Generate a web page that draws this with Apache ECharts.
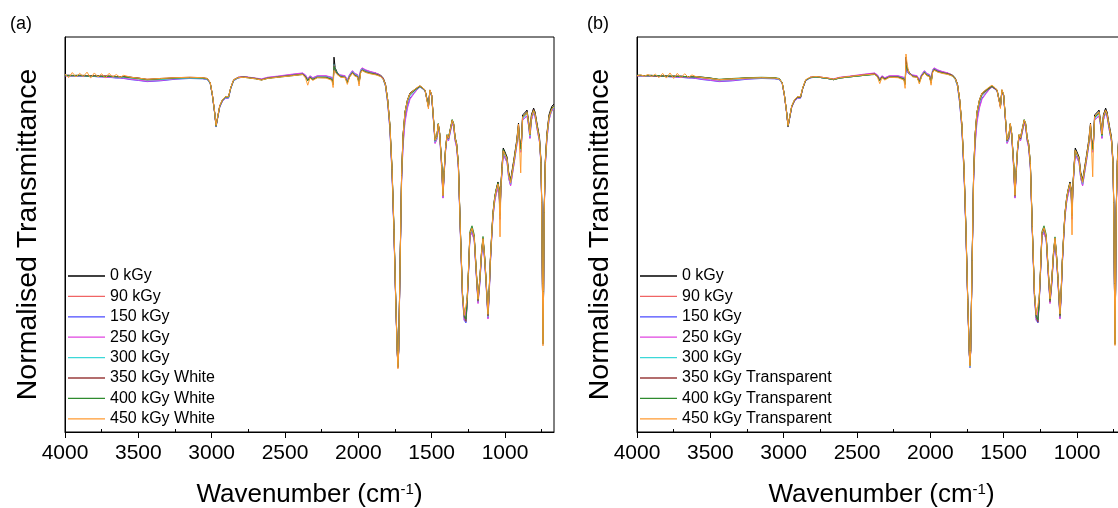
<!DOCTYPE html>
<html><head><meta charset="utf-8">
<script src="https://cdn.jsdelivr.net/npm/echarts@6/dist/echarts.min.js"></script>
<style>html,body{margin:0;padding:0;background:#fff}#c{width:1118px;height:508px}</style>
</head><body><div id="c"></div>
<script>
const wavenumbers = [
4000,3975,3950,3925,3900,3875,3850,3825,3800,3775,3750,3725,3700,3675,3650,3625,3600,
3550,3500,3440,3350,3250,3150,3060,3030,3010,2995,
2980,2970,2960,2945,2925,2905,2895,2885,2870,2850,
2820,2780,2700,2660,2620,2550,2450,2380,2360,2345,
2330,2310,2280,2220,2180,2172,2166,2158,2145,2120,
2090,2075,2060,2040,2025,2005,1995,1985,1975,1950,
1920,1880,1850,1830,1815,1800,1785,1770,1757,1745,
1735,1730,1725,1715,1705,1695,1682,1665,1648,1620,
1600,1580,1560,1545,1532,1522,1512,1500,1487,1477,
1465,1455,1445,1432,1423,1415,1405,1395,1385,1372,
1360,1350,1340,1330,1318,1305,1290,1278,1266,1258,
1250,1239,1225,1210,1198,1184,1172,1160,1150,1140,
1130,1116,1108,1100,1090,1082,1070,1061,1048,1040,
1034,1028,1020,1012,1000,986,975,962,952,940,
932,920,908,903,893,888,880,865,850,840,
830,820,805,795,780,765,755,750,745,741,
737,733,725,714,700,690,680,666];

const k0 = [
90.3,90.3,90.2,90.3,90.3,90.2,90.2,90.2,90.2,90.1,90.1,90.1,90.1,90.0,90.0,90.0,90.0,
89.8,89.6,89.2,89.4,89.6,89.7,89.6,89.4,88.4,85.3,
81.0,77.5,79.5,82.5,84.1,84.8,85.2,84.8,87.1,89.1,
89.7,89.9,89.5,89.2,89.6,89.9,90.3,90.6,90.1,89.1,
89.9,89.4,89.9,89.9,89.4,88.1,94.9,92.2,91.1,90.1,
89.9,88.6,90.1,91.1,90.4,90.1,88.4,91.1,91.9,91.4,
91.1,90.8,90.4,89.6,88.1,84.1,77.7,66.3,51.1,33.4,
20.8,16.5,20.8,43.5,65.1,75.2,81.0,84.1,85.8,86.6,
87.1,87.6,87.1,86.6,86.6,82.5,86.6,85.3,79.0,73.9,
74.8,78.0,75.5,68.0,60.0,66.0,72.0,75.2,74.5,74.0,
79.0,78.0,74.5,73.0,68.0,52.0,35.0,29.5,28.4,33.4,
40.0,50.4,51.6,49.5,42.0,33.4,38.5,45.5,49.1,45.0,
39.0,29.6,35.5,43.5,50.5,55.5,59.5,61.3,63.3,61.5,
55.0,62.5,67.5,71.9,70.9,69.6,65.8,63.8,63.3,68.9,
70.9,73.9,78.2,75.2,72.0,73.9,80.3,80.8,81.5,79.0,
75.7,80.3,82.0,81.0,77.7,74.7,68.9,58.7,38.5,22.5,
36.2,56.2,68.9,75.7,80.3,81.5,82.5,83.0];

const k90 = [
90.2,90.2,90.2,90.2,90.2,90.1,90.2,90.1,90.1,90.1,90.0,90.1,90.0,90.0,89.9,89.9,89.9,
89.6,89.4,89.0,89.2,89.5,89.6,89.5,89.3,88.3,85.2,
80.8,77.3,79.3,82.3,84.0,84.7,85.0,84.7,87.0,89.0,
89.7,89.9,89.5,89.2,89.6,89.9,90.4,90.7,90.2,89.2,
90.0,89.5,90.0,90.0,89.5,88.2,92.5,91.5,90.8,90.2,
90.0,88.8,90.2,91.2,90.5,90.2,88.6,91.3,92.0,91.5,
91.1,90.8,90.3,89.5,88.0,84.0,77.5,66.0,50.8,33.2,
20.6,16.4,20.6,43.2,64.8,74.5,80.2,83.3,85.2,86.3,
86.9,87.5,87.0,86.5,86.5,82.5,86.5,85.2,78.8,73.6,
74.5,77.8,75.2,67.6,59.6,65.7,71.7,75.0,74.2,73.7,
78.7,77.7,74.2,72.7,67.6,51.6,34.6,29.0,28.0,33.0,
39.6,50.1,51.3,49.2,41.6,33.0,38.1,45.2,48.7,44.6,
38.6,29.2,35.1,43.1,50.1,55.1,59.1,60.9,62.8,61.0,
54.6,62.0,67.0,71.1,70.2,68.9,65.0,63.0,62.6,68.2,
70.2,73.2,77.5,74.5,71.5,73.3,79.6,80.1,80.8,78.4,
75.0,79.6,81.3,80.3,77.0,74.0,68.3,58.2,38.2,22.4,
36.0,55.8,68.3,75.0,79.6,80.8,81.8,82.3];

const k150 = [
90.2,90.1,90.2,90.1,90.1,90.1,90.0,90.0,90.0,89.9,89.9,89.8,89.8,89.7,89.6,89.6,89.5,
89.2,89.0,88.7,88.9,89.3,89.5,89.4,89.2,88.2,85.1,
80.8,77.2,79.2,82.2,83.8,84.5,84.9,84.5,86.9,88.9,
89.6,89.9,89.5,89.3,89.7,90.0,90.5,90.8,90.3,89.3,
90.1,89.6,90.1,90.1,89.7,88.4,92.0,91.2,90.6,90.3,
90.1,89.0,90.4,91.4,90.7,90.4,88.8,91.5,92.1,91.6,
91.2,90.8,90.2,89.3,87.6,83.4,76.8,65.2,50.2,32.8,
20.4,16.3,20.4,42.6,63.8,73.0,79.0,82.4,84.5,85.8,
86.6,87.3,86.8,86.3,86.3,82.3,86.2,84.9,78.4,73.2,
74.1,77.4,74.8,67.0,59.3,65.2,71.3,74.6,73.8,73.3,
78.3,77.2,73.8,72.2,67.0,51.0,34.0,28.3,27.6,32.4,
39.0,49.6,50.6,48.6,41.0,32.8,37.5,44.5,48.0,44.0,
38.0,28.8,34.5,42.5,49.6,54.5,58.4,60.2,62.0,60.4,
54.0,61.3,66.2,70.4,69.4,68.3,64.3,62.4,62.2,67.6,
69.6,72.6,76.9,73.9,71.0,72.7,79.0,79.6,80.0,77.8,
74.4,79.0,81.0,79.8,76.5,73.5,67.8,57.8,37.8,22.2,
35.6,55.2,67.6,74.2,79.0,80.5,81.5,82.0];

const k250 = [
90.2,90.2,90.1,90.2,90.1,90.1,90.1,90.0,90.0,90.0,89.9,89.9,89.8,89.8,89.7,89.7,89.6,
89.3,89.1,88.8,89.0,89.4,89.6,89.5,89.3,88.3,85.2,
80.9,77.4,79.4,82.3,83.9,84.6,85.0,84.6,87.0,89.0,
89.8,90.0,89.6,89.4,89.8,90.1,90.6,90.9,90.4,89.4,
90.2,89.7,90.2,90.2,89.8,88.5,92.3,91.4,90.8,90.4,
90.2,89.1,90.5,91.5,90.8,90.5,88.9,91.6,92.2,91.7,
91.3,90.9,90.3,89.3,87.5,83.2,76.5,65.0,50.0,32.6,
20.3,16.3,20.3,42.3,63.3,72.3,78.3,82.0,84.2,85.7,
86.6,87.3,86.9,86.4,86.3,82.3,86.3,85.0,78.3,73.0,
74.0,77.3,74.6,66.7,59.2,65.0,71.2,74.6,73.7,73.2,
78.2,77.1,73.6,72.0,66.8,50.8,33.8,28.3,28.0,32.6,
39.0,49.5,50.4,48.5,40.8,32.5,37.2,44.3,47.9,43.8,
37.8,28.6,34.3,42.4,49.4,54.3,58.3,60.0,61.8,60.2,
53.8,61.2,66.0,70.2,69.3,68.2,64.2,62.3,62.0,67.4,
69.4,72.4,76.8,73.8,70.8,72.6,78.9,79.5,80.0,77.7,
74.3,78.9,80.8,79.7,76.4,73.4,67.7,57.6,37.6,22.3,
35.5,55.0,67.5,74.1,78.9,80.3,81.3,81.8];

const k300 = [
90.3,90.2,90.2,90.2,90.2,90.2,90.1,90.1,90.1,90.1,90.0,90.0,90.0,89.9,89.9,89.9,89.8,
89.6,89.4,89.1,89.2,89.5,89.6,89.5,89.3,88.3,85.2,
80.9,77.4,79.4,82.4,84.0,84.7,85.1,84.7,87.0,89.0,
89.7,89.9,89.5,89.2,89.6,89.9,90.3,90.6,90.1,89.1,
89.9,89.4,89.9,89.9,89.5,88.2,93.0,91.8,90.9,90.1,
89.9,88.7,90.2,91.2,90.5,90.2,88.5,91.2,91.9,91.3,
91.0,90.6,90.1,89.2,87.6,83.5,77.0,65.6,50.6,33.0,
20.6,16.4,20.6,43.0,64.5,74.3,80.2,83.4,85.2,86.2,
86.8,87.4,86.9,86.4,86.4,82.4,86.4,85.1,78.7,73.5,
74.4,77.7,75.1,67.5,59.7,65.6,71.6,74.9,74.1,73.6,
78.6,77.6,74.1,72.6,67.5,51.5,34.5,29.0,28.2,33.0,
39.5,50.0,51.2,49.1,41.5,33.1,38.0,45.0,48.6,44.4,
38.5,29.2,35.0,43.0,50.0,55.0,59.0,60.8,62.6,60.9,
54.5,61.9,66.8,71.0,70.0,68.8,64.9,62.9,62.5,68.0,
70.0,73.0,77.4,74.4,71.3,73.1,79.4,80.0,80.6,78.2,
74.9,79.5,81.2,80.2,76.9,73.9,68.2,58.0,38.0,22.4,
35.8,55.6,68.1,74.8,79.4,80.6,81.6,82.2];

const k350White = [
90.3,90.3,90.3,90.2,90.3,90.3,90.2,90.2,90.2,90.2,90.1,90.1,90.1,90.1,90.0,90.0,90.0,
89.8,89.6,89.3,89.5,89.7,89.8,89.7,89.5,88.5,85.4,
81.1,77.5,79.6,82.6,84.2,84.9,85.3,84.9,87.2,89.2,
89.8,89.9,89.5,89.2,89.6,89.9,90.3,90.6,90.0,89.0,
89.8,89.3,89.8,89.8,89.3,88.0,92.8,91.6,90.8,90.0,
89.8,88.5,90.0,91.0,90.3,90.0,88.3,91.0,91.7,91.2,
90.9,90.6,90.2,89.4,87.9,83.9,77.5,66.1,51.0,33.3,
20.7,16.4,20.7,43.4,65.0,75.0,80.8,83.9,85.6,86.4,
87.0,87.5,87.0,86.5,86.5,82.4,86.5,85.2,78.9,73.8,
74.7,77.9,75.4,67.8,59.8,65.8,71.8,75.0,74.3,73.8,
78.8,77.8,74.3,72.8,67.8,51.8,34.8,29.2,28.0,33.0,
39.8,50.3,51.5,49.3,41.8,33.2,38.3,45.3,48.9,44.8,
38.8,29.4,35.3,43.3,50.3,55.3,59.3,61.1,63.0,61.3,
54.8,62.2,67.2,71.4,70.5,69.2,65.4,63.4,63.0,68.5,
70.5,73.5,77.8,74.8,71.8,73.6,79.9,80.4,81.1,78.6,
75.3,79.9,81.6,80.6,77.3,74.3,68.5,58.4,38.3,22.4,
36.1,56.0,68.6,75.3,79.9,81.1,82.1,82.6];

const k400White = [
90.3,90.2,90.2,90.2,90.2,90.2,90.1,90.1,90.1,90.1,90.0,90.0,90.0,90.0,89.9,89.9,89.9,
89.7,89.5,89.2,89.4,89.6,89.7,89.6,89.4,88.4,85.3,
81.0,77.4,79.5,82.5,84.1,84.8,85.2,84.8,87.1,89.1,
89.7,89.8,89.4,89.1,89.5,89.8,90.2,90.5,89.9,88.9,
89.7,89.2,89.7,89.7,89.2,87.9,92.5,91.8,90.7,89.9,
89.7,88.4,89.9,90.9,90.2,89.9,88.2,90.9,91.6,91.1,
90.8,90.5,90.1,89.3,87.9,84.2,78.0,66.8,51.8,33.8,
21.0,16.6,20.9,43.6,65.2,75.2,81.0,84.0,85.6,86.4,
87.0,87.5,87.0,86.5,86.5,82.4,86.5,85.2,79.0,73.9,
74.9,78.1,75.6,68.1,60.2,66.1,72.1,75.3,74.6,74.1,
79.1,78.1,74.6,73.1,68.1,52.2,35.2,29.6,28.6,33.6,
40.3,50.8,52.2,50.0,42.3,33.6,38.7,45.8,49.5,45.2,
39.2,29.8,35.7,43.7,50.7,55.6,59.6,61.3,63.1,61.4,
54.9,62.3,67.3,71.5,70.5,69.2,65.4,63.4,62.9,68.4,
70.4,73.4,77.7,74.7,71.7,73.5,79.8,80.3,81.0,78.5,
75.2,79.8,81.5,80.5,77.2,74.2,68.4,58.3,38.2,22.3,
35.9,55.9,68.5,75.2,79.8,81.0,82.0,82.5];

const k450White = [
90.6,89.7,91.0,89.9,90.8,90.0,91.1,89.6,90.9,89.9,90.7,89.6,90.8,89.9,90.5,89.8,90.3,
89.8,89.6,89.3,89.5,89.7,89.8,89.7,89.5,88.5,85.4,
81.1,77.6,79.6,82.6,84.2,84.9,85.3,84.9,87.2,89.2,
89.7,89.8,89.4,89.1,89.5,89.8,90.2,90.5,89.6,87.8,
89.6,89.0,89.7,89.6,89.0,87.2,91.5,91.3,90.5,89.8,
89.7,88.0,89.8,90.8,90.1,89.8,87.6,90.8,91.5,91.0,
90.7,90.4,90.0,89.3,87.9,84.1,77.8,66.5,51.3,33.4,
20.6,16.0,20.5,43.3,65.0,75.1,80.9,84.0,85.7,86.6,
87.2,87.7,87.1,86.5,86.7,81.8,86.6,85.3,79.0,73.9,
74.8,78.0,75.5,67.4,59.8,65.9,72.0,75.2,74.4,73.9,
78.9,77.9,74.4,72.9,67.9,51.9,34.9,29.5,29.0,33.8,
40.2,50.4,51.6,49.4,42.0,33.6,38.6,45.6,49.0,44.8,
39.0,29.8,35.6,43.6,50.4,55.3,59.2,61.0,62.8,61.0,
49.4,62.2,67.0,71.2,70.3,69.0,65.1,63.1,62.7,68.2,
70.2,73.2,77.9,74.0,65.6,73.0,79.8,80.3,80.9,78.4,
75.3,79.8,81.4,80.4,77.0,73.9,68.2,58.0,37.5,21.8,
35.6,55.6,68.3,75.0,79.6,80.8,81.8,82.3];

const k350Transparent = [
90.2,90.2,90.2,90.2,90.2,90.1,90.1,90.1,90.1,90.0,90.0,90.0,90.0,89.9,89.9,89.9,89.9,
89.7,89.5,89.2,89.4,89.6,89.7,89.6,89.4,88.4,85.3,
81.0,77.3,79.4,82.4,84.0,84.7,85.1,84.7,87.0,89.0,
89.8,90.0,89.6,89.3,89.7,90.0,90.4,90.7,90.1,89.0,
89.9,89.4,89.9,89.9,89.4,88.0,93.2,91.9,90.9,90.1,
89.9,88.6,90.1,91.1,90.4,90.1,88.4,91.1,91.8,91.3,
91.0,90.7,90.3,89.5,88.0,84.0,77.6,66.2,51.0,33.2,
20.6,16.9,20.6,43.3,64.9,74.9,80.7,83.8,85.5,86.3,
86.9,87.4,86.9,86.4,86.4,82.3,86.4,85.1,78.8,73.7,
74.6,77.8,75.3,67.7,59.7,65.7,71.7,74.9,74.2,73.7,
78.7,77.7,74.2,72.7,67.7,51.7,34.7,29.0,27.8,32.8,
39.7,50.2,51.4,49.2,41.7,33.0,38.2,45.2,48.8,44.7,
38.7,29.3,35.2,43.2,50.2,55.2,59.2,61.0,62.9,61.2,
54.7,62.1,67.1,71.3,70.4,69.1,65.3,63.3,62.8,68.4,
70.4,73.4,77.7,74.7,71.6,73.5,79.8,80.3,81.0,78.5,
75.2,79.8,81.5,80.5,77.2,74.2,68.4,58.3,38.2,22.3,
36.0,55.9,68.5,75.2,79.8,81.0,82.0,82.5];

const k400Transparent = [
90.3,90.3,90.2,90.2,90.2,90.2,90.2,90.1,90.1,90.1,90.1,90.0,90.0,90.0,90.0,89.9,89.9,
89.8,89.6,89.3,89.5,89.7,89.8,89.7,89.5,88.5,85.4,
81.1,77.4,79.5,82.5,84.1,84.8,85.2,84.8,87.1,89.1,
89.7,89.9,89.5,89.2,89.6,89.9,90.3,90.5,90.0,88.9,
89.8,89.3,89.8,89.8,89.3,88.0,93.0,92.2,90.9,90.0,
89.8,88.5,90.0,91.0,90.3,90.0,88.3,91.0,91.7,91.2,
90.9,90.6,90.2,89.4,88.0,84.2,77.9,66.6,51.5,33.6,
20.9,16.8,20.8,43.6,65.2,75.2,81.0,84.0,85.7,86.5,
87.1,87.6,87.1,86.6,86.6,82.5,86.6,85.3,79.0,73.9,
74.9,78.1,75.6,68.1,60.1,66.1,72.1,75.3,74.6,74.1,
79.1,78.1,74.6,73.1,68.1,52.1,35.1,29.4,28.4,33.4,
40.2,50.8,52.2,50.0,42.2,33.5,38.6,45.8,49.4,45.1,
39.1,29.7,35.6,43.6,50.6,55.5,59.5,61.2,63.0,61.3,
54.8,62.2,67.2,71.4,70.4,69.1,65.3,63.3,62.8,68.3,
70.3,73.3,77.6,74.6,71.6,73.4,79.7,80.2,80.9,78.4,
75.1,79.7,81.4,80.4,77.1,74.1,68.3,58.2,38.1,22.2,
35.8,55.8,68.4,75.1,79.7,80.9,81.9,82.4];

const k450Transparent = [
90.2,90.4,90.1,90.5,90.0,90.6,89.7,90.8,89.6,90.9,89.5,90.8,89.7,90.7,89.8,90.4,90.0,
89.7,89.5,89.2,89.4,89.6,89.7,89.6,89.4,88.4,85.3,
81.0,77.6,79.6,82.6,84.2,84.9,85.3,84.9,87.2,89.2,
89.8,90.0,89.6,89.3,89.7,90.0,90.4,90.6,89.8,88.2,
89.7,89.1,89.8,89.7,89.1,87.0,95.7,93.0,90.8,89.9,
89.8,88.1,89.9,90.9,90.2,89.9,87.8,90.9,91.6,91.1,
90.8,90.5,90.1,89.4,88.0,84.2,77.9,66.6,51.4,33.5,
20.7,16.7,20.6,43.4,65.1,75.2,81.0,84.1,85.8,86.7,
87.3,87.8,87.2,86.6,86.8,81.9,86.7,85.4,79.1,74.0,
74.9,78.1,75.6,67.5,59.9,66.0,72.1,75.3,74.5,74.0,
79.0,78.0,74.5,73.0,68.0,52.0,35.0,29.6,29.1,33.9,
40.3,50.5,51.7,49.5,42.1,33.7,38.7,45.7,49.1,44.9,
39.1,29.9,35.7,43.7,50.5,55.4,59.3,61.1,62.9,61.1,
49.9,62.3,67.1,71.3,70.4,69.1,65.2,63.2,62.8,68.3,
70.3,73.3,78.0,74.1,64.6,73.1,79.9,80.4,81.0,78.5,
75.4,79.9,81.5,80.5,77.1,74.0,68.3,58.1,37.6,21.9,
35.7,55.7,68.4,75.1,79.7,80.9,81.9,82.4];

const majorTicks = [1000,1500,2000,2500,3000,3500,4000];
const minorTicks = [750,1250,1750,2250,2750,3250,3750];
const namesA = ['0 kGy','90 kGy','150 kGy','250 kGy','300 kGy','350 kGy White','400 kGy White','450 kGy White'];
const namesB = ['0 kGy','90 kGy','150 kGy','250 kGy','300 kGy','350 kGy Transparent','400 kGy Transparent','450 kGy Transparent'];
const valuesA = [k0,k90,k150,k250,k300,k350White,k400White,k450White];
const valuesB = [k0,k90,k150,k250,k300,k350Transparent,k400Transparent,k450Transparent];
const colors = ['#000000','#f06464','#4a4aff','#e044e0','#3cd8d8','#9a3c3c','#2e8b2e','#ff9a30'];

const FONT = 'Liberation Sans, Arial, sans-serif';
const XMIN = 666, XMAX = 4000;

function xAxes(gi){
  return [{
    type:'value', gridIndex:gi, inverse:true, min:XMIN, max:XMAX,
    axisLine:{show:true, onZero:false, lineStyle:{color:'#000', width:1}},
    axisTick:{show:true, inside:false, length:6, customValues:majorTicks, lineStyle:{color:'#000', width:1}},
    axisLabel:{show:true, customValues:majorTicks, margin:11, color:'#000', fontSize:21, fontFamily:FONT,
      formatter:(v)=>String(v)},
    splitLine:{show:false},
    name:'Wavenumber (cm{sup|-1})', nameLocation:'middle', nameGap:50,
    nameTextStyle:{fontSize:26, fontFamily:FONT, color:'#000',
      rich:{sup:{fontSize:15, fontFamily:FONT, color:'#000', verticalAlign:'top', lineHeight:26}}}
  },{
    type:'value', gridIndex:gi, inverse:true, min:XMIN, max:XMAX,
    axisLine:{show:false},
    axisTick:{show:true, inside:false, length:3, customValues:minorTicks, lineStyle:{color:'#000', width:1}},
    axisLabel:{show:false}, splitLine:{show:false}
  }];
}
function yAxis(gi){
  return {
    type:'value', gridIndex:gi, min:0, max:100,
    axisLine:{show:true, lineStyle:{color:'#000', width:1}},
    axisTick:{show:false}, axisLabel:{show:false}, splitLine:{show:false},
    name:'Normalised Transmittance', nameLocation:'middle', nameGap:22,
    nameTextStyle:{fontSize:28.5, fontFamily:FONT, color:'#000'}
  };
}
function makeSeries(names, values, xi, yi){
  return names.map((n,i)=>({
    type:'line', name:n, xAxisIndex:xi, yAxisIndex:yi,
    data: wavenumbers.map((w,j)=>[w, values[i][j]]),
    symbol:'none', showSymbol:false, smooth:false, clip:true,
    lineStyle:{width:1, color:colors[i]}, itemStyle:{color:colors[i]},
    emphasis:{disabled:true}
  }));
}
function legend(names, left){
  return {data:names, orient:'vertical', left:left, top:266, icon:'rect', itemWidth:37, itemHeight:1.3, itemGap:0.4,
    selectedMode:false, padding:0,
    textStyle:{fontSize:16, lineHeight:20, color:'#000', fontFamily:FONT}};
}

const chart = echarts.init(document.getElementById('c'), null, {renderer:'canvas'});
chart.setOption({
  backgroundColor:'#fff',
  animation:false,
  title:[
    {text:'(a)', left:5, top:10, textStyle:{fontSize:18, fontWeight:'normal', color:'#000', fontFamily:FONT}},
    {text:'(b)', left:582, top:10, textStyle:{fontSize:18, fontWeight:'normal', color:'#000', fontFamily:FONT}}
  ],
  grid:[
    {left:65, top:37, width:489, height:395, show:true, borderColor:'#000', borderWidth:1, backgroundColor:'transparent',
     containLabel:false, outerBoundsMode:'none'},
    {left:637, top:37, width:489, height:395, show:true, borderColor:'#000', borderWidth:1, backgroundColor:'transparent',
     containLabel:false, outerBoundsMode:'none'}
  ],
  legend:[legend(namesA, 68), legend(namesB, 640)],
  xAxis:[...xAxes(0), ...xAxes(1)],
  yAxis:[yAxis(0), yAxis(1)],
  series:[...makeSeries(namesA, valuesA, 0, 0), ...makeSeries(namesB, valuesB, 2, 1)]
});
</script>
</body></html>
